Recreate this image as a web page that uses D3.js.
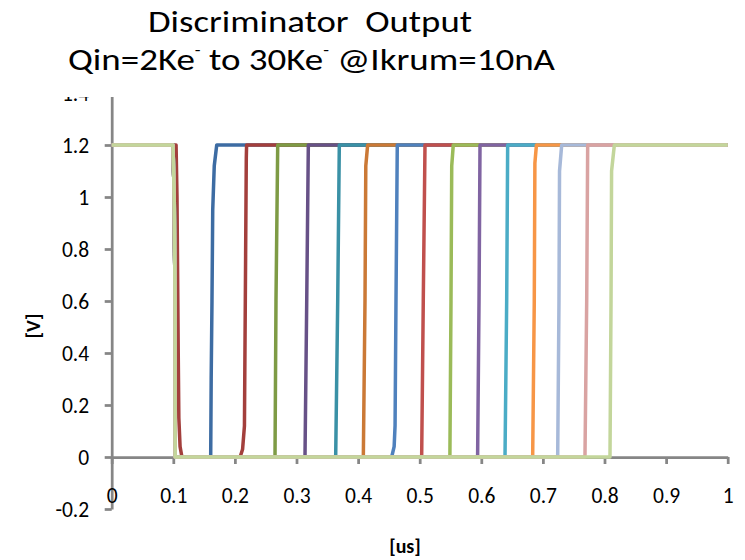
<!DOCTYPE html>
<html>
<head>
<meta charset="utf-8">
<script src="https://cdn.jsdelivr.net/npm/d3@7"></script>
<style>
  body { margin: 0; background: #ffffff; }
  text { font-family: Carlito, Calibri, Lato, sans-serif; }
</style>
</head>
<body>
<svg id="chart" width="745" height="560"></svg>
<script>
// Axis ticks
const xTickValues = [0, 0.1, 0.2, 0.3, 0.4, 0.5, 0.6, 0.7, 0.8, 0.9, 1];
const xTickLabels = ["0", "0.1", "0.2", "0.3", "0.4", "0.5", "0.6", "0.7", "0.8", "0.9", "1"];
const yTickValues = [-0.2, 0, 0.2, 0.4, 0.6, 0.8, 1, 1.2, 1.4];
const yTickLabels = ["-0.2", "0", "0.2", "0.4", "0.6", "0.8", "1", "1.2", "1.4"];

// Trace colours, in drawing order
const traceColors = [
  "#3D6CA3", "#A33F3C", "#7E9B45", "#675187", "#3A91A6", "#CB7936",
  "#4F81BD", "#C0504D", "#9BBB59", "#8064A2", "#4BACC6", "#F79646",
  "#A7B9D9", "#D9A3A2", "#C3D69B"
];

// Discriminator output waveforms: [time (us), voltage (V)]
const trace01 = [[0,1.2],[0.0995,1.2],[0.1015,1.0],[0.1028,0.6],[0.103,0],[0.1607,0],[0.1615,0.3],[0.1628,0.6],[0.164,0.95],[0.1665,1.12],[0.1705,1.2],[1,1.2]];
const trace02 = [[0,1.2],[0.1045,1.2],[0.106,1.0],[0.108,0.4],[0.109,0.15],[0.111,0.04],[0.114,0],[0.2085,0],[0.2125,0.03],[0.2155,0.12],[0.2169,0.6],[0.2185,1.15],[0.219,1.2],[1,1.2]];
const trace03 = [[0,1.2],[0.0995,1.2],[0.1015,1.0],[0.1028,0.6],[0.103,0],[0.2651,0],[0.2667,0.6],[0.2695,1.2],[1,1.2]];
const trace04 = [[0,1.2],[0.0995,1.2],[0.1015,1.0],[0.1028,0.6],[0.103,0],[0.3138,0],[0.3166,0.6],[0.3192,1.2],[1,1.2]];
const trace05 = [[0,1.2],[0.0995,1.2],[0.1015,1.0],[0.1028,0.6],[0.103,0],[0.3636,0],[0.3669,0.6],[0.3695,1.2],[1,1.2]];
const trace06 = [[0,1.2],[0.0995,1.2],[0.1015,1.0],[0.1028,0.6],[0.103,0],[0.4085,0],[0.4112,0.6],[0.4125,1.12],[0.4155,1.2],[1,1.2]];
const trace07 = [[0,1.2],[0.0995,1.2],[0.1015,1.0],[0.1028,0.6],[0.103,0],[0.4545,0],[0.4585,0.04],[0.46,0.12],[0.4615,0.6],[0.4636,1.2],[1,1.2]];
const trace08 = [[0,1.2],[0.0995,1.2],[0.1015,1.0],[0.1028,0.6],[0.103,0],[0.5032,0],[0.5058,0.6],[0.5086,1.2],[1,1.2]];
const trace09 = [[0,1.2],[0.0995,1.2],[0.1015,1.0],[0.1028,0.6],[0.103,0],[0.549,0],[0.5508,0.6],[0.552,1.12],[0.5545,1.2],[1,1.2]];
const trace10 = [[0,1.2],[0.0995,1.2],[0.1015,1.0],[0.1028,0.6],[0.103,0],[0.594,0],[0.5963,0.6],[0.5979,1.2],[1,1.2]];
const trace11 = [[0,1.2],[0.0995,1.2],[0.1015,1.0],[0.1028,0.6],[0.103,0],[0.6385,0],[0.6412,0.6],[0.6428,1.2],[1,1.2]];
const trace12 = [[0,1.2],[0.0995,1.2],[0.1015,1.0],[0.1028,0.6],[0.103,0],[0.6834,0],[0.686,0.6],[0.687,1.13],[0.6895,1.2],[1,1.2]];
const trace13 = [[0,1.2],[0.0995,1.2],[0.1015,1.0],[0.1028,0.6],[0.103,0],[0.724,0],[0.7261,0.6],[0.727,1.1],[0.7305,1.2],[1,1.2]];
const trace14 = [[0,1.2],[0.0995,1.2],[0.1015,1.0],[0.1028,0.6],[0.103,0],[0.7683,0],[0.7711,0.6],[0.7727,1.2],[1,1.2]];
const trace15 = [[0,1.2],[0.0995,1.2],[0.1015,1.0],[0.1028,0.6],[0.103,0],[0.8089,0],[0.8106,0.6],[0.8115,1.1],[0.816,1.2],[1,1.2]];

const traces = [trace01, trace02, trace03, trace04, trace05, trace06, trace07, trace08,
                trace09, trace10, trace11, trace12, trace13, trace14, trace15];

const svg = d3.select("#chart");

const x = d3.scaleLinear().domain([0, 1]).range([111.7, 727.7]);
const y = d3.scaleLinear().domain([-0.2, 1.4]).range([509, 93]);

const axisColor = "#868686";
const tickFont = 21.5;

// Y axis
const yAxis = svg.append("g")
  .attr("transform", `translate(${x(0)},0)`)
  .call(d3.axisLeft(y)
    .tickValues(yTickValues)
    .tickFormat((d, i) => yTickLabels[i])
    .tickSize(7)
    .tickSizeOuter(0)
    .tickPadding(15.5));
yAxis.selectAll("path.domain, line").attr("stroke", axisColor).attr("stroke-width", 2.75);
yAxis.selectAll("text")
  .attr("font-size", tickFont)
  .attr("fill", "#000")
  .attr("font-family", "Carlito, Calibri, Lato, sans-serif")
  .attr("dy", "0.36em");

// X axis, crossing at 0 V
const xAxis = svg.append("g")
  .attr("transform", `translate(0,${y(0)})`)
  .call(d3.axisBottom(x)
    .tickValues(xTickValues)
    .tickFormat((d, i) => xTickLabels[i])
    .tickSize(7)
    .tickSizeOuter(0));
xAxis.selectAll("path.domain, line").attr("stroke", axisColor).attr("stroke-width", 2.75);
xAxis.selectAll("text")
  .attr("font-size", tickFont)
  .attr("fill", "#000")
  .attr("font-family", "Carlito, Calibri, Lato, sans-serif")
  .attr("y", 38)
  .attr("dy", "0.36em");

// Waveforms
const line = d3.line()
  .x(d => x(d[0]))
  .y(d => y(d[1]))
  .curve(d3.curveLinear);

svg.append("g")
  .selectAll("path")
  .data(traces)
  .join("path")
  .attr("d", line)
  .attr("fill", "none")
  .attr("stroke", (d, i) => traceColors[i])
  .attr("stroke-width", 3.5)
  .attr("stroke-linejoin", "round")
  .attr("stroke-linecap", "butt");

// Title box (its white background overlaps the top of the plot)
svg.append("rect")
  .attr("x", 0).attr("y", 0)
  .attr("width", 745).attr("height", 97)
  .attr("fill", "#ffffff");

// Chart title, two lines
svg.append("text")
  .attr("x", 310).attr("y", 31.5)
  .attr("text-anchor", "middle")
  .attr("font-size", 31.5)
  .attr("fill", "#000")
  .attr("xml:space", "preserve")
  .style("white-space", "pre")
  .attr("textLength", 324)
  .attr("lengthAdjust", "spacingAndGlyphs")
  .text("Discriminator  Output");

const sub = svg.append("text")
  .attr("x", 311.5).attr("y", 69.5)
  .attr("text-anchor", "middle")
  .attr("font-size", 31.5)
  .attr("fill", "#000")
  .attr("xml:space", "preserve")
  .style("white-space", "pre")
  .attr("textLength", 487)
  .attr("lengthAdjust", "spacingAndGlyphs");
sub.append("tspan").text("Qin=2Ke");
sub.append("tspan").attr("font-size", 16).attr("dy", -15).text("-");
sub.append("tspan").attr("dy", 15).text(" to 30Ke");
sub.append("tspan").attr("font-size", 16).attr("dy", -15).text("-");
sub.append("tspan").attr("dy", 15).text(" @Ikrum=10nA");

// Axis titles
svg.append("text")
  .attr("transform", "translate(33,326) rotate(-90)")
  .attr("text-anchor", "middle")
  .attr("dy", "0.35em")
  .attr("font-size", 20)
  .attr("font-weight", "bold")
  .attr("fill", "#000")
  .text("[V]");

svg.append("text")
  .attr("x", 405).attr("y", 546)
  .attr("text-anchor", "middle")
  .attr("dy", "0.35em")
  .attr("font-size", 20)
  .attr("font-weight", "bold")
  .attr("fill", "#000")
  .text("[us]");
</script>
</body>
</html>
